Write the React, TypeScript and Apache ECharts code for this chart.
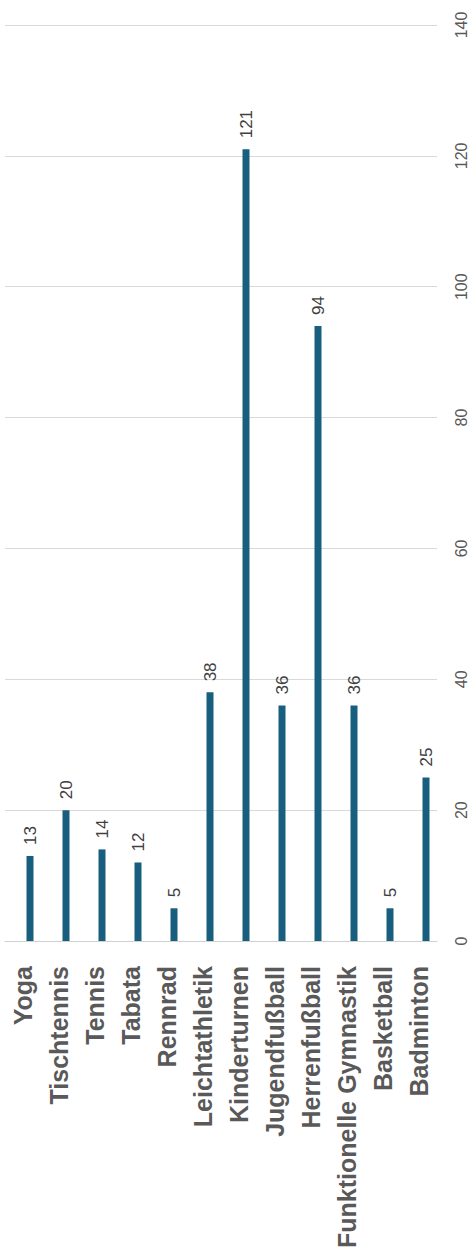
import React, { useEffect, useRef } from "react";
import * as echarts from "echarts";

const categories = [
  "Yoga",
  "Tischtennis",
  "Tennis",
  "Tabata",
  "Rennrad",
  "Leichtathletik",
  "Kinderturnen",
  "Jugendfußball",
  "Herrenfußball",
  "Funktionelle Gymnastik",
  "Basketball",
  "Badminton",
];
const values = [13, 20, 14, 12, 5, 38, 121, 36, 94, 36, 5, 25];
const axisMin = 0;
const axisMax = 140;
const axisStep = 20;

const FONT = "'Liberation Sans', Arial, sans-serif";

export default function App() {
  const ref = useRef<HTMLDivElement>(null);
  useEffect(() => {
    if (!ref.current) return;
    const chart = echarts.init(ref.current, undefined, { renderer: "svg" });
    chart.setOption({
      animation: false,
      backgroundColor: "#ffffff",
      grid: [
        { left: 12, width: 432, top: 25, height: 916, containLabel: false },
        { left: 5, width: 432, top: 25, height: 916, containLabel: false },
      ],
      xAxis: [
        {
          type: "category",
          gridIndex: 0,
          data: categories,
          axisLine: { show: false },
          axisTick: { show: false },
          axisLabel: {
            rotate: 90,
            interval: 0,
            margin: 25,
            align: "right",
            verticalAlign: "bottom",
            lineHeight: 15,
            fontFamily: FONT,
            fontSize: 25,
            fontWeight: "bold",
            color: "#595959",
          },
        },
        {
          type: "category",
          gridIndex: 1,
          data: categories,
          axisLine: { show: true, lineStyle: { color: "#d0d0d0", width: 1 } },
          axisTick: { show: false },
          axisLabel: { show: false },
        },
      ],
      yAxis: [
        {
          type: "value",
          gridIndex: 0,
          min: axisMin,
          max: axisMax,
          interval: axisStep,
          show: false,
          splitLine: { show: false },
        },
        {
          type: "value",
          gridIndex: 1,
          position: "right",
          min: axisMin,
          max: axisMax,
          interval: axisStep,
          axisLine: { show: false },
          axisTick: { show: false },
          splitLine: { show: true, lineStyle: { color: "#d9d9d9", width: 1 } },
          axisLabel: {
            rotate: 90,
            margin: 16,
            align: "center",
            verticalAlign: "top",
            fontFamily: FONT,
            fontSize: 16,
            color: "#595959",
          },
        },
      ],
      series: [
        {
          type: "bar",
          xAxisIndex: 0,
          yAxisIndex: 0,
          data: values,
          barWidth: 7,
          itemStyle: { color: "#185e7e" },
          label: {
            show: true,
            position: "top",
            rotate: 90,
            align: "left",
            verticalAlign: "middle",
            distance: 11,
            fontFamily: FONT,
            fontSize: 17,
            color: "#404040",
          },
        },
      ],
    });
    return () => chart.dispose();
  }, []);
  return (
    <div
      ref={ref}
      style={{ position: "fixed", left: 0, top: 0, width: 474, height: 1260 }}
    />
  );
}
